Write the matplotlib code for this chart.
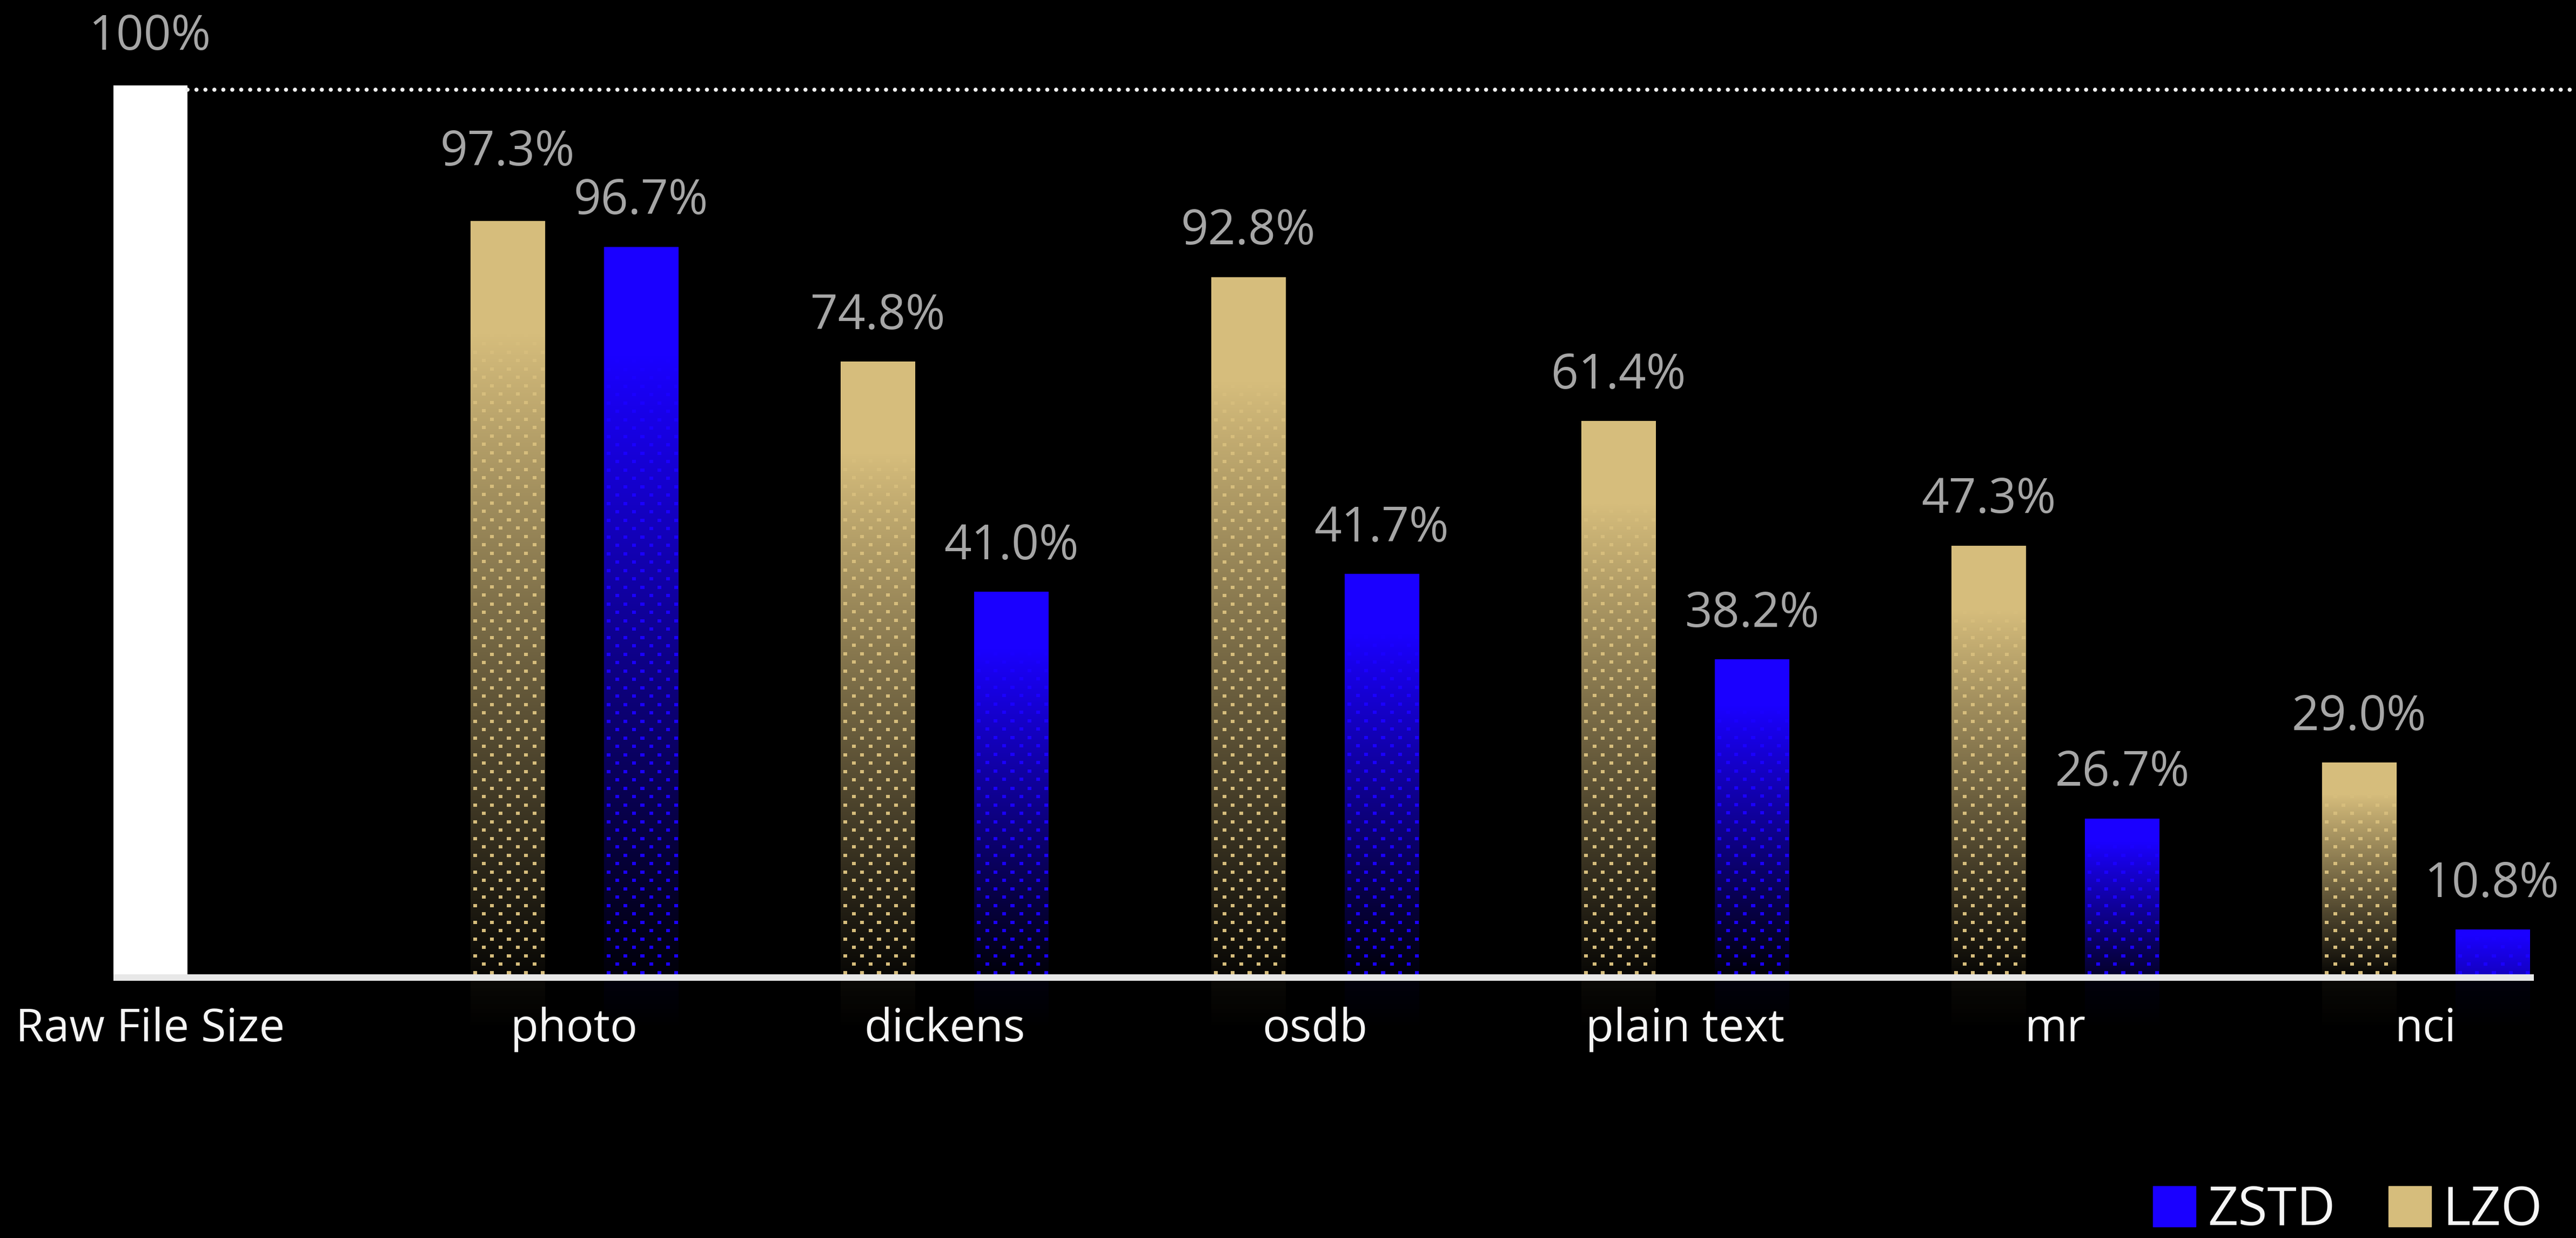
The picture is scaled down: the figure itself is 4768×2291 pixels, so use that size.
import numpy as np
import matplotlib.pyplot as plt
from matplotlib.patches import Patch, Rectangle
from matplotlib.colors import to_rgb

plt.rcParams['font.family'] = ['Open Sans', 'DejaVu Sans']

# data
categories = ['photo', 'dickens', 'osdb', 'plain text', 'mr', 'nci']
raw_label = 'Raw File Size'
raw_size = 100.0
# ratios printed above the bars
lzo_ratio = [97.3, 74.8, 92.8, 61.4, 47.3, 29.0]
zstd_ratio = [96.7, 41.0, 41.7, 38.2, 26.7, 10.8]
# bar heights as drawn in the picture (the original is not to scale)
lzo_drawn = [84.7, 68.9, 78.4, 62.2, 48.2, 23.8]
zstd_drawn = [81.8, 43.0, 45.0, 35.4, 17.5, 5.0]

LZO_COLOR = '#d6bd7c'
ZSTD_COLOR = '#1a00ff'
BG = 'black'

fig = plt.figure(figsize=(47.68, 22.91), dpi=100, facecolor=BG)
ax = fig.add_axes([0, 0, 1, 1])
ax.set_facecolor(BG)
ax.set_xlim(-0.551, 6.406)
ax.set_ylim(-29.67, 109.6)
ax.axis('off')

x = np.arange(1, len(categories) + 1)
raw_x = -0.145
w = 0.2
off = 0.18

raw_bar = ax.bar(raw_x, raw_size, w, color='white', zorder=2)[0]
lzo_bars = ax.bar(x - off, lzo_drawn, w, color=LZO_COLOR, zorder=2)
zstd_bars = ax.bar(x + off, zstd_drawn, w, color=ZSTD_COLOR, zorder=2)

# pixels per data unit
p0 = ax.transData.transform((0, 0))
p1 = ax.transData.transform((1, 1))
sx, sy = p1[0] - p0[0], p1[1] - p0[1]


def dotted_fill(bar, color, solid=0.15):
    x0, h, wd = bar.get_x(), bar.get_height(), bar.get_width()
    W = max(int(round(wd * sx)), 1)
    H = max(int(round(h * sy)), 1)
    floor = np.clip(1 - H / 350, 0.04, 1)
    R, C = np.meshgrid(np.arange(H)[::-1], np.arange(W), indexing='ij')
    p = 31
    dot = (((R % p) < 6) & (((C - 5) % p) < 7)) | \
          ((((R + 15) % p) < 6) & (((C + 10) % p) < 7))
    frac = 1 - (R + 0.5) / H
    t = np.where(frac < solid, 1.0, 1 - (frac - solid) / (1 - solid) * (1 - floor))
    t = np.where(dot, 1.0, t)
    rgb = np.array(to_rgb(color))
    ax.imshow(t[..., None] * rgb, extent=(x0, x0 + wd, 0, h), aspect='auto',
              interpolation='nearest', zorder=3)
    # faint reflection under the base line
    n = int(6 * sy)
    ref = np.zeros((n, W, 4))
    ref[..., :3] = rgb
    ref[..., 3] = np.linspace(0.05, 0, n)[:, None]
    ax.imshow(ref, extent=(x0, x0 + wd, -6.7, -0.73), aspect='auto',
              interpolation='nearest', zorder=1)


for b in lzo_bars:
    dotted_fill(b, LZO_COLOR)
for b in zstd_bars:
    dotted_fill(b, ZSTD_COLOR)

# base line
left = raw_bar.get_x()
right = zstd_bars[-1].get_x() + w + 8 / sx
ax.add_patch(Rectangle((left, -12 / sy), right - left, 12 / sy,
                       color='#e8e8e8', lw=0, zorder=4))

# dotted 100% line
ax.plot([raw_bar.get_x() + w, ax.get_xlim()[1]], [raw_size - 0.5] * 2,
        color='#f0f0f0', lw=5.5, linestyle=(0, (0.01, 2.16)),
        dash_capstyle='round', zorder=2)

pad = 3.7
txt_grey = '#a6a6a6'
ax.text(raw_x, raw_size + pad + 0.3, f'{raw_size:.0f}%', ha='center',
        va='baseline', fontsize=64, color=txt_grey)
for i in range(len(categories)):
    yz = zstd_drawn[i] + pad
    yl = lzo_drawn[i] + pad
    if yl >= yz and yl - yz < 5.5:
        yl = yz + 5.5
    ax.text(x[i] - off, yl, f'{lzo_ratio[i]:.1f}%', ha='center',
            va='baseline', fontsize=64, color=txt_grey)
    ax.text(x[i] + off, yz, f'{zstd_ratio[i]:.1f}%', ha='center',
            va='baseline', fontsize=64, color=txt_grey)

# category labels
ax.text(raw_x, -7.54, raw_label, ha='center', va='baseline',
        fontsize=61, color='#f5f5f5')
for xi, c in zip(x, categories):
    ax.text(xi, -7.54, c, ha='center', va='baseline', fontsize=61,
            color='#f5f5f5')

fig.legend(handles=[Patch(color=ZSTD_COLOR, label='ZSTD'),
                    Patch(color=LZO_COLOR, label='LZO')],
           loc='lower right', bbox_to_anchor=(0.987, 0.0), ncol=2,
           frameon=False, fontsize=71, handlelength=0.8, handleheight=0.8,
           handletextpad=0.22, columnspacing=1.0, borderpad=0,
           borderaxespad=0, labelcolor='#f5f5f5')

fig.savefig('out.png', dpi=100, facecolor=BG)
